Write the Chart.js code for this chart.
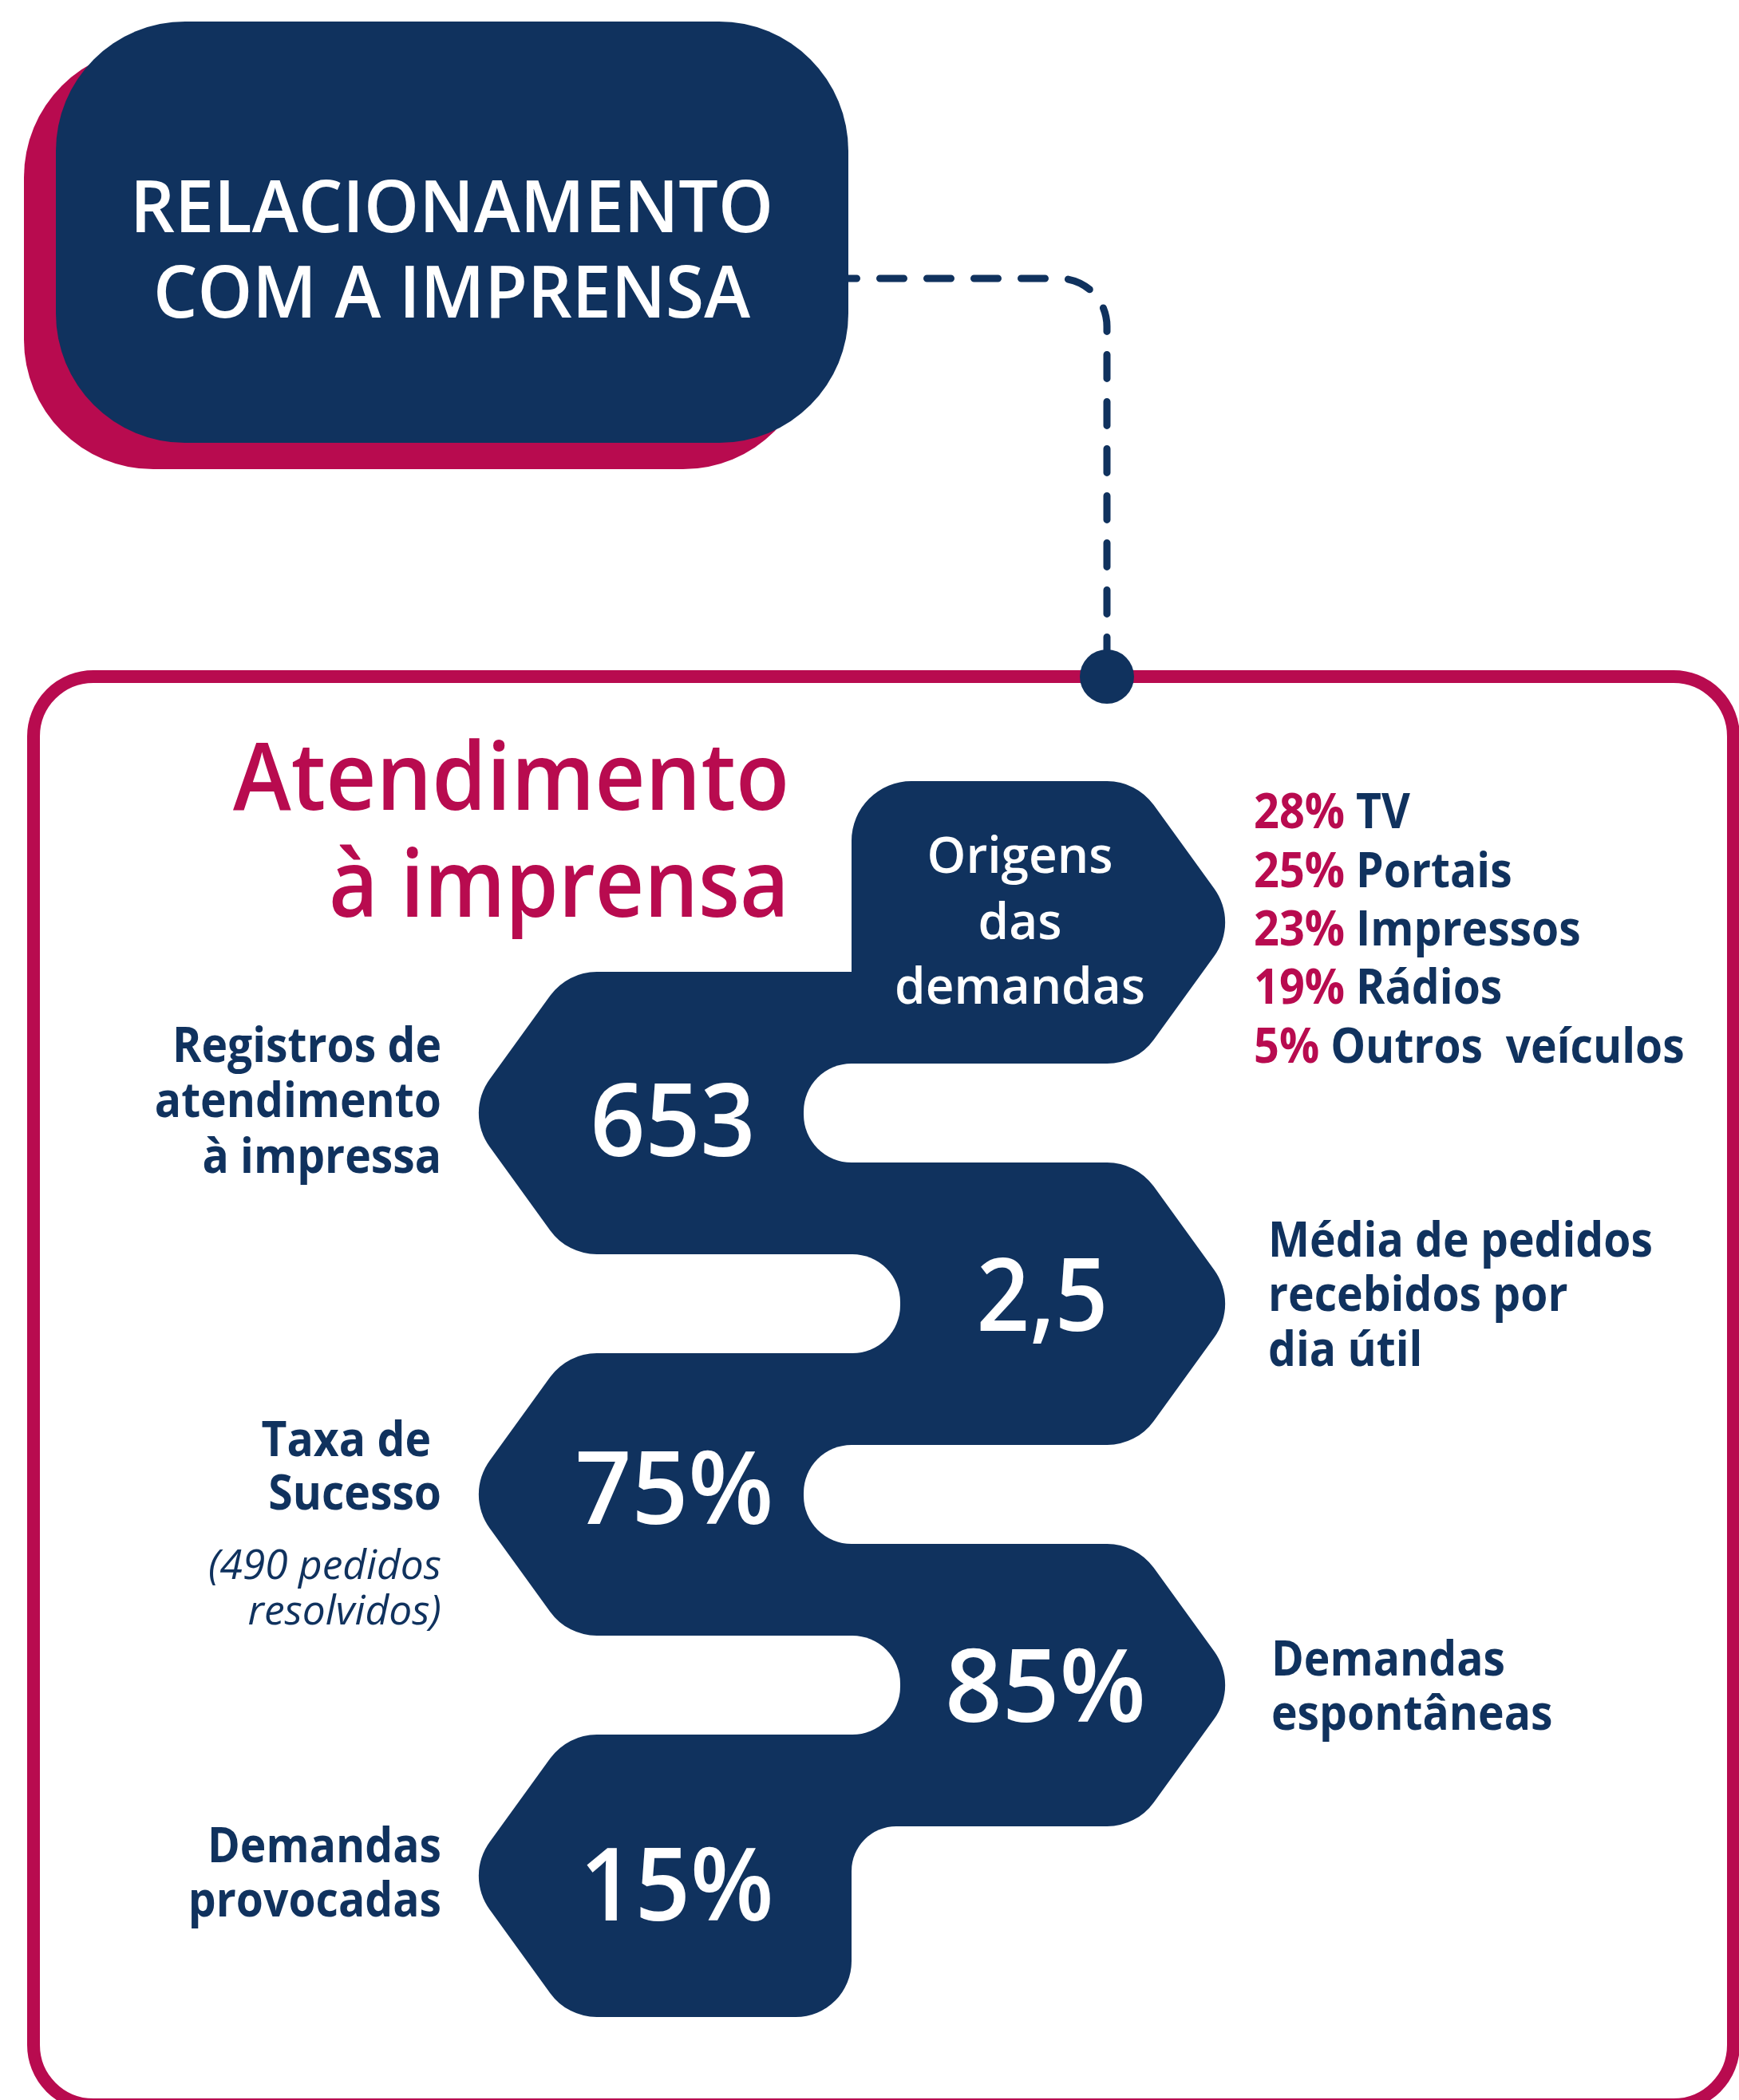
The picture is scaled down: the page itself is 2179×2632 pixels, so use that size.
<!DOCTYPE html>
<html>
<head>
<meta charset="utf-8">
<script src="https://cdn.jsdelivr.net/npm/chart.js@4"></script>
<style>
  html, body { margin: 0; padding: 0; background: #ffffff; }
  #wrap { width: 2179px; height: 2632px; position: relative; }
  canvas { display: block; }
</style>
</head>
<body>
<div id="wrap"><canvas id="c" width="2179" height="2632" style="width:2179px;height:2632px"></canvas></div>
<script>
// ---------------- DATA ----------------
const titleLines = ['RELACIONAMENTO', 'COM A IMPRENSA'];
const headingLines = ['Atendimento', 'à imprensa'];
const originTitle = ['Origens', 'das', 'demandas'];
const originShares = ['28%', '25%', '23%', '19%', '5%'];
const originVehicles = ['TV', 'Portais', 'Impressos', 'Rádios', 'Outros  veículos'];
const statValues = ['653', '2,5', '75%', '85%', '15%'];
const statLabels = [
  ['Registros de', 'atendimento', 'à impressa'],
  ['Média de pedidos', 'recebidos por', 'dia útil'],
  ['Taxa de', 'Sucesso'],
  ['Demandas', 'espontâneas'],
  ['Demandas', 'provocadas']
];
const statNotes = [[], [], ['(490 pedidos', 'resolvidos)'], [], []];

// ---------------- LAYOUT / STYLE ----------------
const W = 2179, H = 2632;
const NAVY = '#10325E', CRIMSON = '#B80B4F', WHITE = '#ffffff';
const FAM = '"Open Sans", "Noto Sans", "DejaVu Sans", sans-serif';
const L = {
  row0: 979, rowStep: 239, rowH: 354,
  tipR: 1552, cornerR: 1424, tipL: 583, cornerL: 711, fillet: 72,
  numPos: [[843, 1449], [1306, 1668], [845, 1910], [1310, 2158], [848, 2407]],
  numW: [207, 165, 249, 252, 243],
  labelX: [553, 1589, 553, 1593, 553],
  labelBase: [[1331, 1400, 1470], [1575, 1643, 1712], [1825, 1892], [2100, 2168], [2334, 2402]],
  labelRightAdj: [[0, 0, 0], [0, 0, 0], [-13, 0], [0, 0], [0, 0]],
  noteBase: [1979, 2036],
  originX: 1571, originBase: [1038, 1112, 1185, 1258, 1332]
};

const infographic = {
  id: 'infographic',
  afterDraw(chart) {
    const ctx = chart.ctx;
    const sx = chart.scales.x, sy = chart.scales.y;
    const X = v => sx.getPixelForValue(v);
    const Y = v => sy.getPixelForValue(v);

    function rrect(x, y, w, h, r, color) {
      ctx.beginPath();
      ctx.roundRect(X(x), Y(y), X(x + w) - X(x), Y(y + h) - Y(y), r);
      ctx.fillStyle = color;
      ctx.fill();
    }
    function text(s, x, y, font, color, align, maxW, squeeze) {
      ctx.font = font;
      ctx.fillStyle = color;
      ctx.textAlign = align;
      ctx.textBaseline = 'alphabetic';
      const m = ctx.measureText(s).width;
      const w = maxW ? Math.min(m, maxW) : m * (squeeze || 0.96);
      ctx.fillText(s, X(x), Y(y), w);
      return w;
    }

    ctx.save();
    // ---- title block ----
    rrect(30, 60, 988, 528, 162, CRIMSON);
    rrect(70, 27, 993, 528, 162, NAVY);
    text(titleLines[0], 566, 291, '600 90px ' + FAM, WHITE, 'center', 806);
    text(titleLines[1], 566, 398, '600 90px ' + FAM, WHITE, 'center', 748);

    // ---- outer frame ----
    ctx.beginPath();
    ctx.roundRect(X(42), Y(848), X(2172) - X(42), Y(2638) - Y(848), 75);
    ctx.lineWidth = 16;
    ctx.strokeStyle = CRIMSON;
    ctx.stroke();

    // ---- dashed connector ----
    ctx.beginPath();
    ctx.moveTo(X(1063), Y(349));
    ctx.lineTo(X(1327), Y(349));
    ctx.arcTo(X(1387), Y(349), X(1387), Y(409), 60);
    ctx.lineTo(X(1387), Y(835));
    ctx.setLineDash([30, 29]);
    ctx.lineDashOffset = 19.5;
    ctx.lineCap = 'round';
    ctx.lineWidth = 9;
    ctx.strokeStyle = NAVY;
    ctx.stroke();
    ctx.setLineDash([]);
    ctx.beginPath();
    ctx.arc(X(1387), Y(848), 34, 0, Math.PI * 2);
    ctx.fillStyle = NAVY;
    ctx.fill();

    // ---- snake of hexagonal rows ----
    const rows = statValues.length + 1;
    const tops = [];
    for (let k = 0; k < rows; k++) tops.push(L.row0 + L.rowStep * k);
    ctx.fillStyle = NAVY;
    for (let k = 0; k < rows; k++) {
      const T = tops[k], B = T + L.rowH, M = T + L.rowH / 2;
      ctx.beginPath();
      if (k % 2 === 0) {
        const Lx = k === 0 ? 1067 : 1040;
        ctx.moveTo(X(Lx), Y(B));
        if (k === 0) {
          ctx.lineTo(X(Lx), Y(T + 75));
          ctx.arcTo(X(Lx), Y(T), X(Lx + 75), Y(T), 75);
        } else {
          ctx.lineTo(X(Lx), Y(T));
        }
        ctx.arcTo(X(L.cornerR), Y(T), X(L.tipR), Y(M), L.fillet);
        ctx.arcTo(X(L.tipR), Y(M), X(L.cornerR), Y(B), L.fillet);
        ctx.arcTo(X(L.cornerR), Y(B), X(Lx), Y(B), L.fillet);
        ctx.lineTo(X(Lx), Y(B));
      } else {
        const last = k === rows - 1;
        const Rx = last ? 1067 : 1100;
        ctx.moveTo(X(Rx), Y(T));
        if (last) {
          ctx.lineTo(X(Rx), Y(B - 70));
          ctx.arcTo(X(Rx), Y(B), X(Rx - 70), Y(B), 70);
        } else {
          ctx.lineTo(X(Rx), Y(B));
        }
        ctx.arcTo(X(L.cornerL), Y(B), X(L.tipL), Y(M), L.fillet);
        ctx.arcTo(X(L.tipL), Y(M), X(L.cornerL), Y(T), L.fillet);
        ctx.arcTo(X(L.cornerL), Y(T), X(Rx), Y(T), L.fillet);
        ctx.lineTo(X(Rx), Y(T));
      }
      ctx.closePath();
      ctx.fill();
    }
    // fillet below the last right row
    const lastRightBottom = tops[rows - 2] + L.rowH;
    ctx.fillStyle = NAVY;
    ctx.fillRect(X(1067), Y(lastRightBottom - 2), 62, 64);
    rrect(1067, lastRightBottom, 520, 200, [56, 0, 0, 0], WHITE);
    // notches
    for (let k = 0; k + 2 < rows; k++) {
      const y0 = tops[k] + L.rowH, y1 = tops[k + 2];
      if (k % 2 === 0) {
        rrect(1007, y0, 560, y1 - y0, [60, 0, 0, 60], WHITE);
      } else {
        rrect(560, y0, 568, y1 - y0, [0, 60, 60, 0], WHITE);
      }
    }

    // ---- heading ----
    text(headingLines[0], 989, 1015, '600 118px ' + FAM, CRIMSON, 'right', 697);
    text(headingLines[1], 989, 1149, '600 118px ' + FAM, CRIMSON, 'right', 577);

    // ---- origin block text ----
    const oBase = [1094, 1177, 1258];
    originTitle.forEach((s, i) => text(s, 1278, oBase[i], '600 64px ' + FAM, WHITE, 'center', null, 0.97));

    // ---- origin list ----
    originShares.forEach((p, i) => {
      const w = text(p, L.originX, L.originBase[i], '700 60px ' + FAM, CRIMSON, 'left', null, 0.93);
      text(originVehicles[i], L.originX + w + 14, L.originBase[i], '700 60px ' + FAM, NAVY, 'left', null, 0.92);
    });

    // ---- stats ----
    statValues.forEach((v, i) => {
      text(v, L.numPos[i][0], L.numPos[i][1], '600 127px ' + FAM, WHITE, 'center', L.numW[i]);
      const left = i % 2 === 0;
      statLabels[i].forEach((s, j) => {
        text(s, L.labelX[i] + L.labelRightAdj[i][j], L.labelBase[i][j], '700 60px ' + FAM, NAVY, left ? 'right' : 'left', null, 0.92);
      });
      statNotes[i].forEach((s, j) => {
        text(s, L.labelX[i], L.noteBase[j], 'italic 400 52px ' + FAM, NAVY, 'right', null, 0.99);
      });
    });
    ctx.restore();
  }
};

function build() {
  new Chart(document.getElementById('c'), {
    type: 'scatter',
    data: { datasets: [{ data: statValues.map((v, i) => ({ x: L.numPos[i][0], y: L.numPos[i][1] })), pointRadius: 0, showLine: false }] },
    options: {
      responsive: false,
      animation: false,
      devicePixelRatio: 1,
      layout: { padding: 0 },
      events: [],
      scales: {
        x: { type: 'linear', min: 0, max: W, display: false },
        y: { type: 'linear', min: 0, max: H, reverse: true, display: false }
      },
      plugins: { legend: { display: false }, tooltip: { enabled: false } }
    },
    plugins: [infographic]
  });
}

const fontLoads = [
  '600 60px "Open Sans"', '700 60px "Open Sans"', 'italic 400 52px "Open Sans"', '600 127px "Open Sans"'
].map(f => document.fonts.load(f).catch(() => null));
Promise.all(fontLoads).then(build, build);
</script>
</body>
</html>
